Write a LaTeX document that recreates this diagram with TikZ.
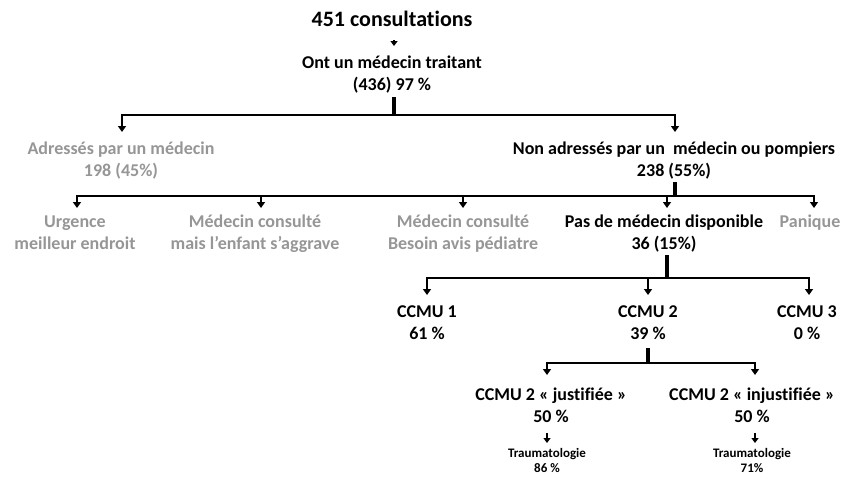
\documentclass[tikz,border=0pt]{standalone}
\usepackage{fontspec}
\setmainfont{Carlito}[Ligatures=CommonOff]
\usetikzlibrary{arrows.meta}
\definecolor{txtgray}{RGB}{150,150,150}
\begin{document}
\begin{tikzpicture}[x=1pt,y=-1pt,
  lbl/.style={anchor=base,align=center,inner sep=0pt,font=\bfseries\fontsize{18}{22}\selectfont},
  big/.style={lbl,font=\bfseries\fontsize{22}{26}\selectfont},
  small/.style={lbl,font=\bfseries\fontsize{13}{14.5}\selectfont},
  gr/.style={text=txtgray},
  stub/.style={line width=3.5pt},
  arr/.style={line width=2.5pt,-{Triangle[width=8pt,length=6pt]}},
  sarr/.style={line width=2pt,-{Triangle[width=7pt,length=5pt]}}]
\useasboundingbox (0,0) rectangle (850,477);
\clip (0,0) rectangle (850,477);

% nodes (base = baseline of the last line)
\node[big] (top) at (392,26) {451 consultations};
\node[lbl] (ont) at (392,90) {Ont un médecin traitant\\(436) 97 \%};
\node[lbl,gr] (adr) at (121,176) {Adressés par un médecin\\198 (45\%)};
\node[lbl] (non) at (674,176) {Non adressés par un\ \ médecin ou pompiers\\238 (55\%)};
\node[lbl,gr] (urg) at (75,249) {Urgence\\meilleur endroit};
\node[lbl,gr] (med1) at (255,249) {Médecin consulté\\mais l’enfant s’aggrave};
\node[lbl,gr] (med2) at (463,249) {Médecin consulté\\Besoin avis pédiatre};
\node[lbl] (pas) at (664,249) {Pas de médecin disponible\\36 (15\%)};
\node[lbl,gr] (pan) at (810,227) {Panique};
\node[lbl] (c1) at (427,339) {CCMU 1\\61 \%};
\node[lbl] (c2) at (648,339) {CCMU 2\\39 \%};
\node[lbl] (c3) at (807,339) {CCMU 3\\0 \%};
\node[lbl] (just) at (551,422) {CCMU 2 « justifiée »\\50 \%};
\node[lbl] (inj) at (752,422) {CCMU 2 « injustifiée »\\50 \%};
\node[small] (t1) at (547,472) {Traumatologie\\86 \%};
\node[small] (t2) at (752,472) {Traumatologie\\71\%};

% hubs
\coordinate (h1) at (394,115);
\coordinate (h2) at (675,196);
\coordinate (h3) at (667,278);
\coordinate (h4) at (648,363);

% top arrow
\draw[sarr] ([xshift=2pt,yshift=-14pt]top.base) -- ([xshift=2pt,yshift=44pt]ont.base);

% level 1
\draw[stub] ([xshift=2pt,yshift=-7pt]ont.base) -- (h1);
\draw[arr] (h1) -| ([xshift=1pt,yshift=44pt]adr.base);
\draw[arr] (h1) -| ([xshift=1pt,yshift=44pt]non.base);

% level 2
\draw[stub] ([xshift=1pt,yshift=-6pt]non.base) -- (h2);
\draw[arr] (h2) -| ([xshift=2pt,yshift=41pt]urg.base);
\draw[arr] (h2) -| ([xshift=6pt,yshift=41pt]med1.base);
\draw[arr] (h2) -| ([yshift=41pt]med2.base);
\draw[arr] (h2) -| ([xshift=3pt,yshift=41pt]pas.base);
\draw[arr] (h2) -| ([xshift=4pt,yshift=19pt]pan.base);

% level 3
\draw[stub] ([xshift=3pt,yshift=-6pt]pas.base) -- (h3);
\draw[arr] (h3) -| ([yshift=44pt]c1.base);
\draw[arr] (h3) -| ([yshift=44pt]c2.base);
\draw[arr] (h3) -| ([xshift=2pt,yshift=44pt]c3.base);

% level 4
\draw[stub] ([yshift=-9pt]c2.base) -- (h4);
\draw[arr] (h4) -| ([xshift=-4pt,yshift=47pt]just.base);
\draw[arr] (h4) -| ([xshift=3pt,yshift=47pt]inj.base);

% small arrows
\draw[sarr] ([xshift=-4pt,yshift=-11pt]just.base) -- ([yshift=29pt]t1.base);
\draw[sarr] ([xshift=3pt,yshift=-11pt]inj.base) -- ([xshift=3pt,yshift=29pt]t2.base);
\end{tikzpicture}
\end{document}
